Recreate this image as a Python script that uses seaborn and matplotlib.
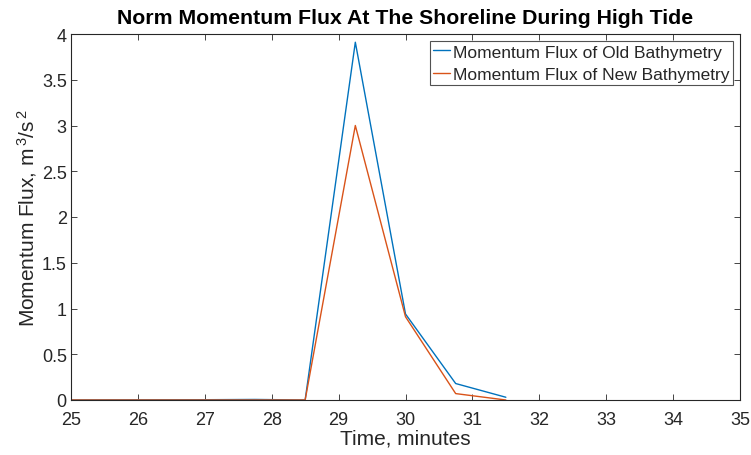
import numpy as np
import pandas as pd
import matplotlib
matplotlib.use("Agg")
import matplotlib.pyplot as plt
import seaborn as sns

# Time samples (minutes) and momentum flux at the shoreline (m^3/s^2)
time_min = [24.75, 25.5, 26.25, 27.0, 27.75, 28.5, 29.25, 30.0, 30.75, 31.5]
flux_old = [0.0, 0.001, 0.002, 0.003, 0.006, 0.0, 3.91, 0.94, 0.18, 0.03]
flux_new = [0.0, 0.0, 0.0, 0.0, 0.0, 0.0, 3.0, 0.91, 0.07, 0.0]

label_old = "Momentum Flux of Old Bathymetry"
label_new = "Momentum Flux of New Bathymetry"

df = pd.DataFrame({
    "time": time_min * 2,
    "flux": flux_old + flux_new,
    "series": [label_old] * len(time_min) + [label_new] * len(time_min),
})

sns.set_style("white")
plt.rcParams["font.family"] = ["Liberation Sans", "DejaVu Sans"]
plt.rcParams["mathtext.fontset"] = "custom"
plt.rcParams["mathtext.rm"] = "Liberation Sans"
plt.rcParams["mathtext.default"] = "regular"

fig = plt.figure(figsize=(7.51, 4.56), dpi=100)
ax = fig.add_axes([71 / 751, 1 - 401 / 456, (740 - 71) / 751, (401 - 35) / 456])

sns.lineplot(data=df, x="time", y="flux", hue="series",
             palette={label_old: "#0072BD", label_new: "#D95319"},
             linewidth=1.0, ax=ax, legend=True, sort=False)

ax.set_xlim(25, 35)
ax.set_ylim(0, 4)
ax.set_xticks(np.arange(25, 36, 1))
ax.set_yticks(np.arange(0, 4.01, 0.5))
ax.set_yticklabels(["0", "0.5", "1", "1.5", "2", "2.5", "3", "3.5", "4"])

ax.tick_params(axis="both", direction="in", length=4, width=0.6,
               color="#262626", labelsize=13, labelcolor="#262626",
               top=True, right=True, bottom=True, left=True)
ax.tick_params(axis="x", pad=8)
ax.tick_params(axis="y", pad=3)
for sp in ax.spines.values():
    sp.set_color("#262626")
    sp.set_linewidth(0.8)

ax.set_xlabel("Time, minutes", fontsize=15, color="#262626", labelpad=0)
ax.set_ylabel(r"Momentum Flux, m$^{\,3}$/s$^{\,2}$", fontsize=15,
              color="#262626", labelpad=2)
ax.set_title("Norm Momentum Flux At The Shoreline During High Tide",
             fontsize=15.3, fontweight="bold", color="black", pad=8)

leg = ax.legend(loc="upper right", fontsize=12.5, frameon=True, fancybox=False,
                handlelength=1.0, handletextpad=0.15, borderpad=0.2,
                labelspacing=0.4, borderaxespad=0.4, edgecolor="#262626")
leg.get_frame().set_linewidth(0.8)
leg.set_title(None)

fig.savefig("out.png", dpi=100)
